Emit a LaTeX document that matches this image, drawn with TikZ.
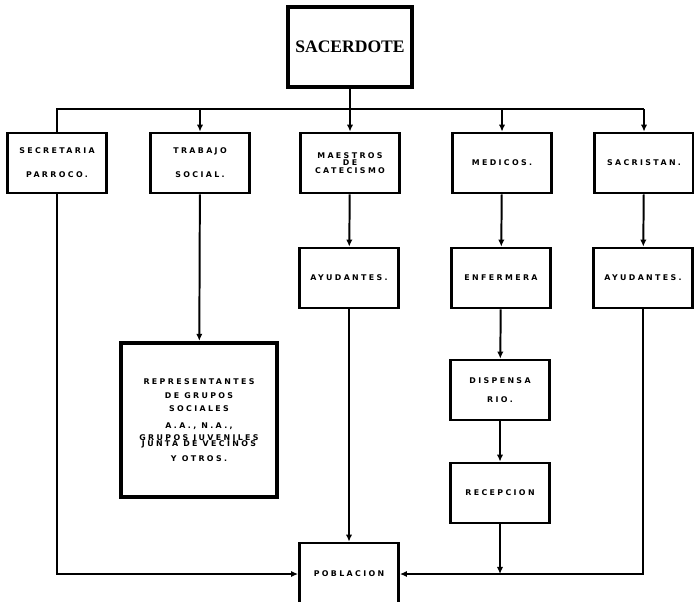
\documentclass[tikz,border=0pt]{standalone}
\usepackage{fontspec}
\usetikzlibrary{arrows.meta}
\newfontfamily\rotulofont[LetterSpace=30]{DejaVu Sans}
\newfontfamily\titulofont{Liberation Serif}
\newcommand{\rotulo}{\rotulofont\bfseries\fontsize{5.6}{8}\selectfont}
\tikzset{
	caja/.style={draw, line width=1.9pt, minimum width=2.48cm, minimum height=1.5cm, inner sep=1pt, align=center, font=\rotulo},
	linea/.style={line width=1.4pt},
	flecha/.style={linea, -{Latex[length=5pt,width=4.5pt]}}
}
\begin{document}
\begin{tikzpicture}[x=0.025cm, y=-0.025cm]
		\useasboundingbox (0,0) rectangle (694,601);
		% jefe
		\node[caja, line width=2.2pt, minimum width=3.1cm, minimum height=2cm, font=\titulofont\bfseries\fontsize{12.5}{14}\selectfont] (sac) at (350,47) {SACERDOTE};
		% primera fila
		\node[caja] (sec) at (57,163) {SECRETARIA\\[9pt]PARROCO.};
		\node[caja] (tra) at (200,163) {TRABAJO\\[9pt]SOCIAL.};
		\node[caja] (mae) at (350,163) {MAESTROS\\[-2.5pt]DE\\[-2.5pt]CATECISMO};
		\node[caja] (med) at (502,163) {MEDICOS.};
		\node[caja] (sacr) at (644,163) {SACRISTAN.};
		% segunda fila
		\node[caja] (ayu1) at (349,278) {AYUDANTES.};
		\node[caja] (enf) at (501,278) {ENFERMERA};
		\node[caja] (ayu2) at (643,278) {AYUDANTES.};
		\node[caja, line width=3pt, minimum width=3.88cm, minimum height=3.85cm] (rep) at (199,420) {REPRESENTANTES\\[2.6pt]DE GRUPOS\\[1.2pt]SOCIALES\\[4pt]A.A., N.A.,\\[0.5pt]GRUPOS JUVENILES\\[-3.7pt]JUNTA DE VECINOS\\[2.6pt]Y OTROS.};
		\node[caja] (dis) at (500,390) {DISPENSA\\[5pt]RIO.};
		\node[caja] (rec) at (500,493) {RECEPCION};
		\node[caja, minimum height=1.55cm] (pob) at (349,574) {POBLACION};
		% conectores
		\coordinate (busL) at (57,109);
		\coordinate (busR) at (644,109);
		\draw[linea] (sac) -- (sac |- busL);
		\draw[linea] (sec.north) -- (busL) -- (busR);
		\draw[flecha] (tra.north |- busL) -- (tra.north);
		\draw[flecha] (mae.north |- busL) -- (mae.north);
		\draw[flecha] (med.north |- busL) -- (med.north);
		\draw[flecha] (busR) -- (sacr.north);
		\draw[flecha] (tra) -- (rep);
		\draw[flecha] (mae) -- (ayu1);
		\draw[flecha] (med) -- (enf);
		\draw[flecha] (sacr) -- (ayu2);
		\draw[flecha] (enf) -- (dis);
		\draw[flecha] (dis) -- (rec);
		\draw[flecha] (ayu1) -- (pob);
		\draw[flecha] (sec.south) |- (pob.west);
		\draw[flecha] (ayu2.south) |- (pob.east);
		\draw[flecha] (rec.south) -- (rec.south |- pob.east);
	\end{tikzpicture}
\end{document}
